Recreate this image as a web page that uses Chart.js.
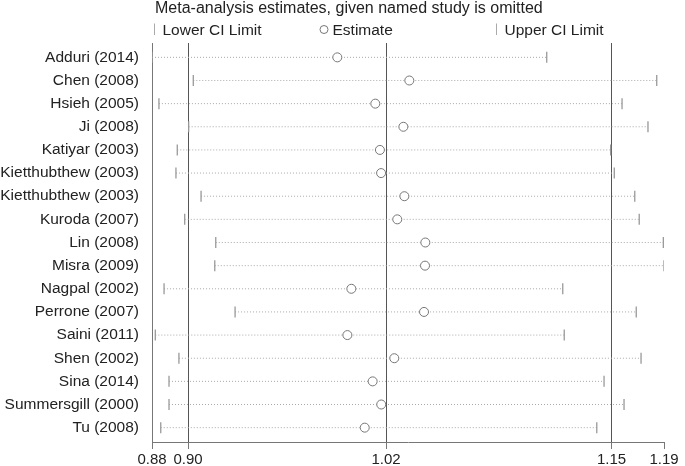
<!DOCTYPE html>
<html>
<head>
<meta charset="utf-8">
<script src="https://cdn.jsdelivr.net/npm/chart.js@4/dist/chart.umd.min.js"></script>
<style>
html,body{margin:0;padding:0;background:#fff;}
#wrap{width:685px;height:466px;position:relative;}
</style>
</head>
<body>
<div id="wrap"><canvas id="c" width="685" height="466"></canvas></div>
<script>
const studies = ['Adduri (2014)','Chen (2008)','Hsieh (2005)','Ji (2008)','Katiyar (2003)','Kietthubthew (2003)','Kietthubthew (2003)','Kuroda (2007)','Lin (2008)','Misra (2009)','Nagpal (2002)','Perrone (2007)','Saini (2011)','Shen (2002)','Sina (2014)','Summersgill (2000)','Tu (2008)'];
const lowerCI  = [0.8800,0.9050,0.8842,0.9022,0.8953,0.8945,0.9097,0.8998,0.9186,0.9180,0.8873,0.9303,0.8820,0.8963,0.8903,0.8903,0.8853];
const estimate = [0.9922,1.0358,1.0152,1.0322,1.0180,1.0187,1.0328,1.0285,1.0455,1.0453,1.0007,1.0447,0.9983,1.0267,1.0136,1.0188,1.0088];
const upperCI  = [1.1190,1.1856,1.1646,1.1803,1.1577,1.1599,1.1723,1.1750,1.1896,1.1900,1.1287,1.1732,1.1296,1.1761,1.1537,1.1658,1.1493];
const tickValues = [0.8800, 0.9018, 1.0217, 1.1582, 1.1900];
const tickLabels = ['0.88','0.90','1.02','1.15','1.19'];
const titleText = 'Meta-analysis estimates, given named study is omitted';
const legendLabels = ['Lower CI Limit','Estimate','Upper CI Limit'];

const FONT = '"Liberation Sans", Arial, sans-serif';

// dotted CI lines, separated by gaps
const ciLine = [];
studies.forEach((s,i)=>{
  ciLine.push({x: lowerCI[i], y: i});
  ciLine.push({x: upperCI[i], y: i});
  ciLine.push({x: null, y: null});
});

const headerPlugin = {
  id: 'header',
  afterDraw(chart){
    const ctx = chart.ctx;
    ctx.save();
    ctx.fillStyle = '#222';
    ctx.textAlign = 'left';
    ctx.textBaseline = 'alphabetic';
    ctx.font = '16px ' + FONT;
    ctx.fillText(titleText, 155, 13);
    ctx.font = '15.5px ' + FONT;
    // lower marker
    ctx.strokeStyle = '#aaa'; ctx.lineWidth = 1;
    ctx.beginPath(); ctx.moveTo(154.5, 23.5); ctx.lineTo(154.5, 35); ctx.stroke();
    ctx.fillText(legendLabels[0], 162.5, 34.5);
    // estimate marker
    ctx.strokeStyle = '#777';
    ctx.beginPath(); ctx.arc(324, 29.5, 4, 0, Math.PI*2); ctx.stroke();
    ctx.fillText(legendLabels[1], 332.5, 34.5);
    // upper marker
    ctx.strokeStyle = '#aaa';
    ctx.beginPath(); ctx.moveTo(496.5, 23.5); ctx.lineTo(496.5, 35); ctx.stroke();
    ctx.fillText(legendLabels[2], 504.5, 34.5);
    ctx.restore();
  }
};

new Chart(document.getElementById('c'), {
  type: 'scatter',
  data: {
    datasets: [
      {
        label: 'Estimate',
        order: 0,
        data: estimate.map((v,i)=>({x:v, y:i})),
        pointStyle: 'circle',
        pointRadius: 4.5,
        pointBorderWidth: 1,
        pointBorderColor: '#777',
        pointBackgroundColor: '#fff'
      },
      {
        label: 'Lower CI Limit',
        order: 1,
        data: lowerCI.map((v,i)=>({x:v, y:i})),
        pointStyle: 'line',
        rotation: 90,
        pointRadius: 5.5,
        pointBorderWidth: 1.3,
        pointBorderColor: '#999'
      },
      {
        label: 'Upper CI Limit',
        order: 1,
        data: upperCI.map((v,i)=>({x:v, y:i})),
        pointStyle: 'line',
        rotation: 90,
        pointRadius: 5.5,
        pointBorderWidth: 1.3,
        pointBorderColor: '#999'
      },
      {
        label: 'CI',
        order: 2,
        data: ciLine,
        showLine: true,
        spanGaps: false,
        borderColor: '#aaa',
        borderWidth: 1,
        borderDash: [1, 2],
        pointRadius: 0
      }
    ]
  },
  options: {
    responsive: false,
    animation: false,
    events: [],
    layout: { padding: { top: 43, right: 21, left: 0, bottom: 0 } },
    plugins: { legend: { display: false }, tooltip: { enabled: false }, title: { display: false } },
    scales: {
      x: {
        type: 'linear',
        min: 0.88,
        max: 1.19,
        afterBuildTicks(scale){ scale.ticks = tickValues.map(v=>({value:v})); },
        afterFit(scale){ scale.height = 24; scale.paddingLeft = 0; scale.paddingRight = 0; },
        ticks: {
          autoSkip: false,
          maxRotation: 0,
          padding: 2,
          color: '#222',
          font: { family: FONT, size: 15 },
          callback: (v, i) => tickLabels[i]
        },
        grid: {
          drawTicks: true,
          tickLength: 7,
          lineWidth: 1,
          color: (ctx) => (ctx.index === 0 || ctx.index === tickValues.length - 1) ? 'rgba(0,0,0,0)' : '#555',
          tickColor: '#777'
        },
        border: { display: true, color: '#777', width: 1 }
      },
      y: {
        type: 'linear',
        reverse: true,
        min: -0.62,
        max: 16.62,
        afterBuildTicks(scale){ scale.ticks = studies.map((s,i)=>({value:i})); },
        afterFit(scale){ scale.width = 152; scale.paddingTop = 0; scale.paddingBottom = 0; },
        ticks: {
          autoSkip: false,
          padding: 13,
          color: '#222',
          font: { family: FONT, size: 15.5 },
          callback: (v) => studies[v] !== undefined ? studies[v] : ''
        },
        grid: { display: false, drawTicks: false },
        border: { display: true, color: '#777', width: 1 }
      }
    }
  },
  plugins: [headerPlugin]
});
</script>
</body>
</html>
